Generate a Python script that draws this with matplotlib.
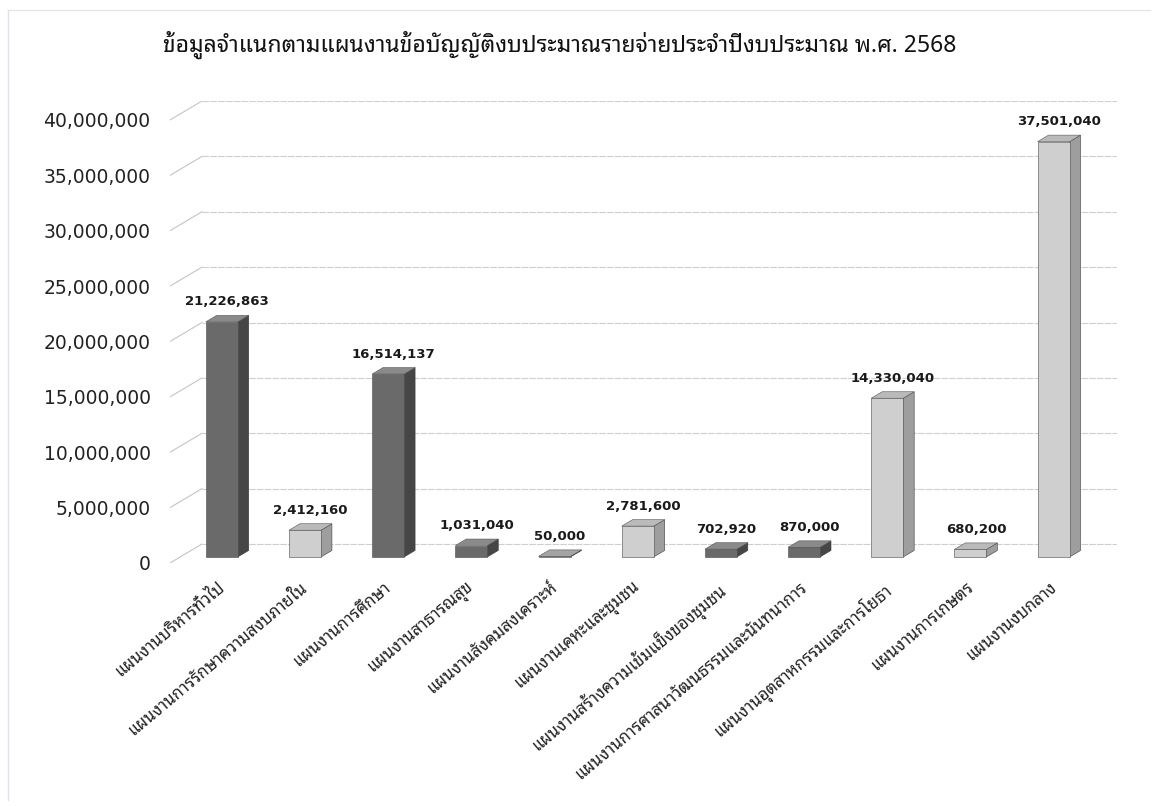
import matplotlib
matplotlib.use("Agg")
import matplotlib.pyplot as plt
from matplotlib import font_manager
from matplotlib.patches import Polygon
from matplotlib.lines import Line2D

# ---------------- data ----------------
title = "ข้อมูลจำแนกตามแผนงานข้อบัญญัติงบประมาณรายจ่ายประจำปีงบประมาณ พ.ศ. 2568"
categories = [
    "แผนงานบริหารทั่วไป",
    "แผนงานการรักษาความสงบภายใน",
    "แผนงานการศึกษา",
    "แผนงานสาธารณสุข",
    "แผนงานสังคมสงเคราะห์",
    "แผนงานเคหะและชุมชน",
    "แผนงานสร้างความเข้มแข็งของชุมชน",
    "แผนงานการศาสนาวัฒนธรรมและนันทนาการ",
    "แผนงานอุตสาหกรรมและการโยธา",
    "แผนงานการเกษตร",
    "แผนงานงบกลาง",
]
values = [21226863, 2412160, 16514137, 1031040, 50000, 2781600,
          702920, 870000, 14330040, 680200, 37501040]
yticks = [0, 5000000, 10000000, 15000000, 20000000, 25000000,
          30000000, 35000000, 40000000]

# ---------------- style ----------------
tones = ["dark", "light", "dark", "dark", "mid", "light",
         "dark", "dark", "light", "light", "light"]
palette = {
    "dark":  ("#6a6a6a", "#464646", "#8a8a8a"),
    "light": ("#cfcfcf", "#9e9e9e", "#bababa"),
    "mid":   ("#a4a4a4", "#808080", "#a4a4a4"),
}

# register fonts that have Thai glyphs
thai_names = []
try:
    from fontTools.ttLib import TTFont
    for f in sorted(font_manager.findSystemFonts()):
        try:
            tt = TTFont(f, fontNumber=0, lazy=True)
            cm = tt.getBestCmap()
            if cm and 0x0E01 in cm:
                font_manager.fontManager.addfont(f)
                nm = font_manager.FontProperties(fname=f).get_name()
                if nm not in thai_names:
                    thai_names.append(nm)
        except Exception:
            pass
except Exception:
    pass

def pick(*names):
    for nm in names:
        if nm in thai_names:
            return nm
    return thai_names[0] if thai_names else "DejaVu Sans"

label_font = pick("Noto Sans Thai Looped", "IBM Plex Sans Thai Looped", "Sarabun", "Noto Sans Thai")
title_font = pick("Noto Sans Thai Looped", "Sarabun", "Noto Sans Thai")
plt.rcParams["font.family"] = [label_font, "DejaVu Sans"]

W, H = 1155, 806
fig = plt.figure(figsize=(W / 100, H / 100), dpi=100)
fig.patch.set_facecolor("white")

# axes: front floor-left at px 170, back right at px 1117; front 0 at px 563, back top at px 101
ax = fig.add_axes([170 / W, (H - 563) / H, 947 / W, 462 / H])
n = len(values)
px_per_cat = 915 / n
px_per_val = 11.08 / 1e6
DX = 32 / px_per_cat          # full floor depth in x units
DY = 19 / px_per_val          # full floor depth in value units
d0, d1 = 0.32, 0.66           # bar depth range
bw = 0.385

ax.set_xlim(-0.5, n - 0.5 + DX)
ax.set_ylim(0, yticks[-1] + DY)
for s in ax.spines.values():
    s.set_visible(False)
ax.set_facecolor("none")

# gridlines on back wall + left wall diagonals
for t in yticks:
    ax.add_line(Line2D([-0.5 + DX, n - 0.5 + DX], [t + DY, t + DY],
                       color="#cfcfcf", lw=0.8, ls=(0, (6, 1)), zorder=1))
    ax.add_line(Line2D([-0.5, -0.5 + DX], [t, t + DY],
                       color="#c4c4c4", lw=0.8, zorder=1))

# bars
for i, v in enumerate(values):
    front, side, top = palette[tones[i]]
    xl = i - bw / 2 + d0 * DX
    xr = i + bw / 2 + d0 * DX
    y0 = d0 * DY
    ddx = (d1 - d0) * DX
    ddy = (d1 - d0) * DY
    ax.add_patch(Polygon([(xr, y0), (xr + ddx, y0 + ddy), (xr + ddx, v + y0 + ddy), (xr, v + y0)],
                         closed=True, facecolor=side, edgecolor="#3a3a3a", lw=0.4, zorder=3))
    ax.add_patch(Polygon([(xl, v + y0), (xr, v + y0), (xr + ddx, v + y0 + ddy), (xl + ddx, v + y0 + ddy)],
                         closed=True, facecolor=top, edgecolor="#555555", lw=0.4, zorder=3))
    ax.bar(i + d0 * DX, v, width=bw, bottom=y0, color=front, edgecolor="#4a4a4a", lw=0.4, zorder=4)
    ax.annotate(f"{v:,}", xy=(i + d0 * DX + ddx / 2, v + y0 + ddy), xytext=(0, 5),
                textcoords="offset points", ha="center", va="bottom",
                fontsize=9.5, fontweight="bold", color="#1a1a1a", family="DejaVu Sans", zorder=5)

# y axis labels
ax.set_yticks(yticks)
ax.set_yticklabels([f"{t:,}" for t in yticks], family="DejaVu Sans", fontsize=13.5, color="#222222")
ax.tick_params(axis="y", length=0, pad=14)

# x labels
ax.set_xticks([i + d0 * DX - 0.05 for i in range(n)])
ax.set_xticklabels(categories, rotation=40, ha="right", va="top",
                   rotation_mode="anchor", fontsize=12, fontweight="bold",
                   color="#222222", family=[label_font, "DejaVu Sans"])
ax.tick_params(axis="x", length=0, pad=12)

fig.text(560 / W, 1 - 45 / H, title, ha="center", va="center", fontsize=16.5,
         color="#111111", family=[title_font, "DejaVu Sans"])

# faint scan border
fig.add_artist(Line2D([8 / W, 8 / W], [1 - 10 / H, 1 - 800 / H], color="#dfe2ea", lw=1))
fig.add_artist(Line2D([8 / W, 1150 / W], [1 - 10 / H, 1 - 10 / H], color="#e6e6e6", lw=1))

fig.savefig("out.png", dpi=100, facecolor="white")
